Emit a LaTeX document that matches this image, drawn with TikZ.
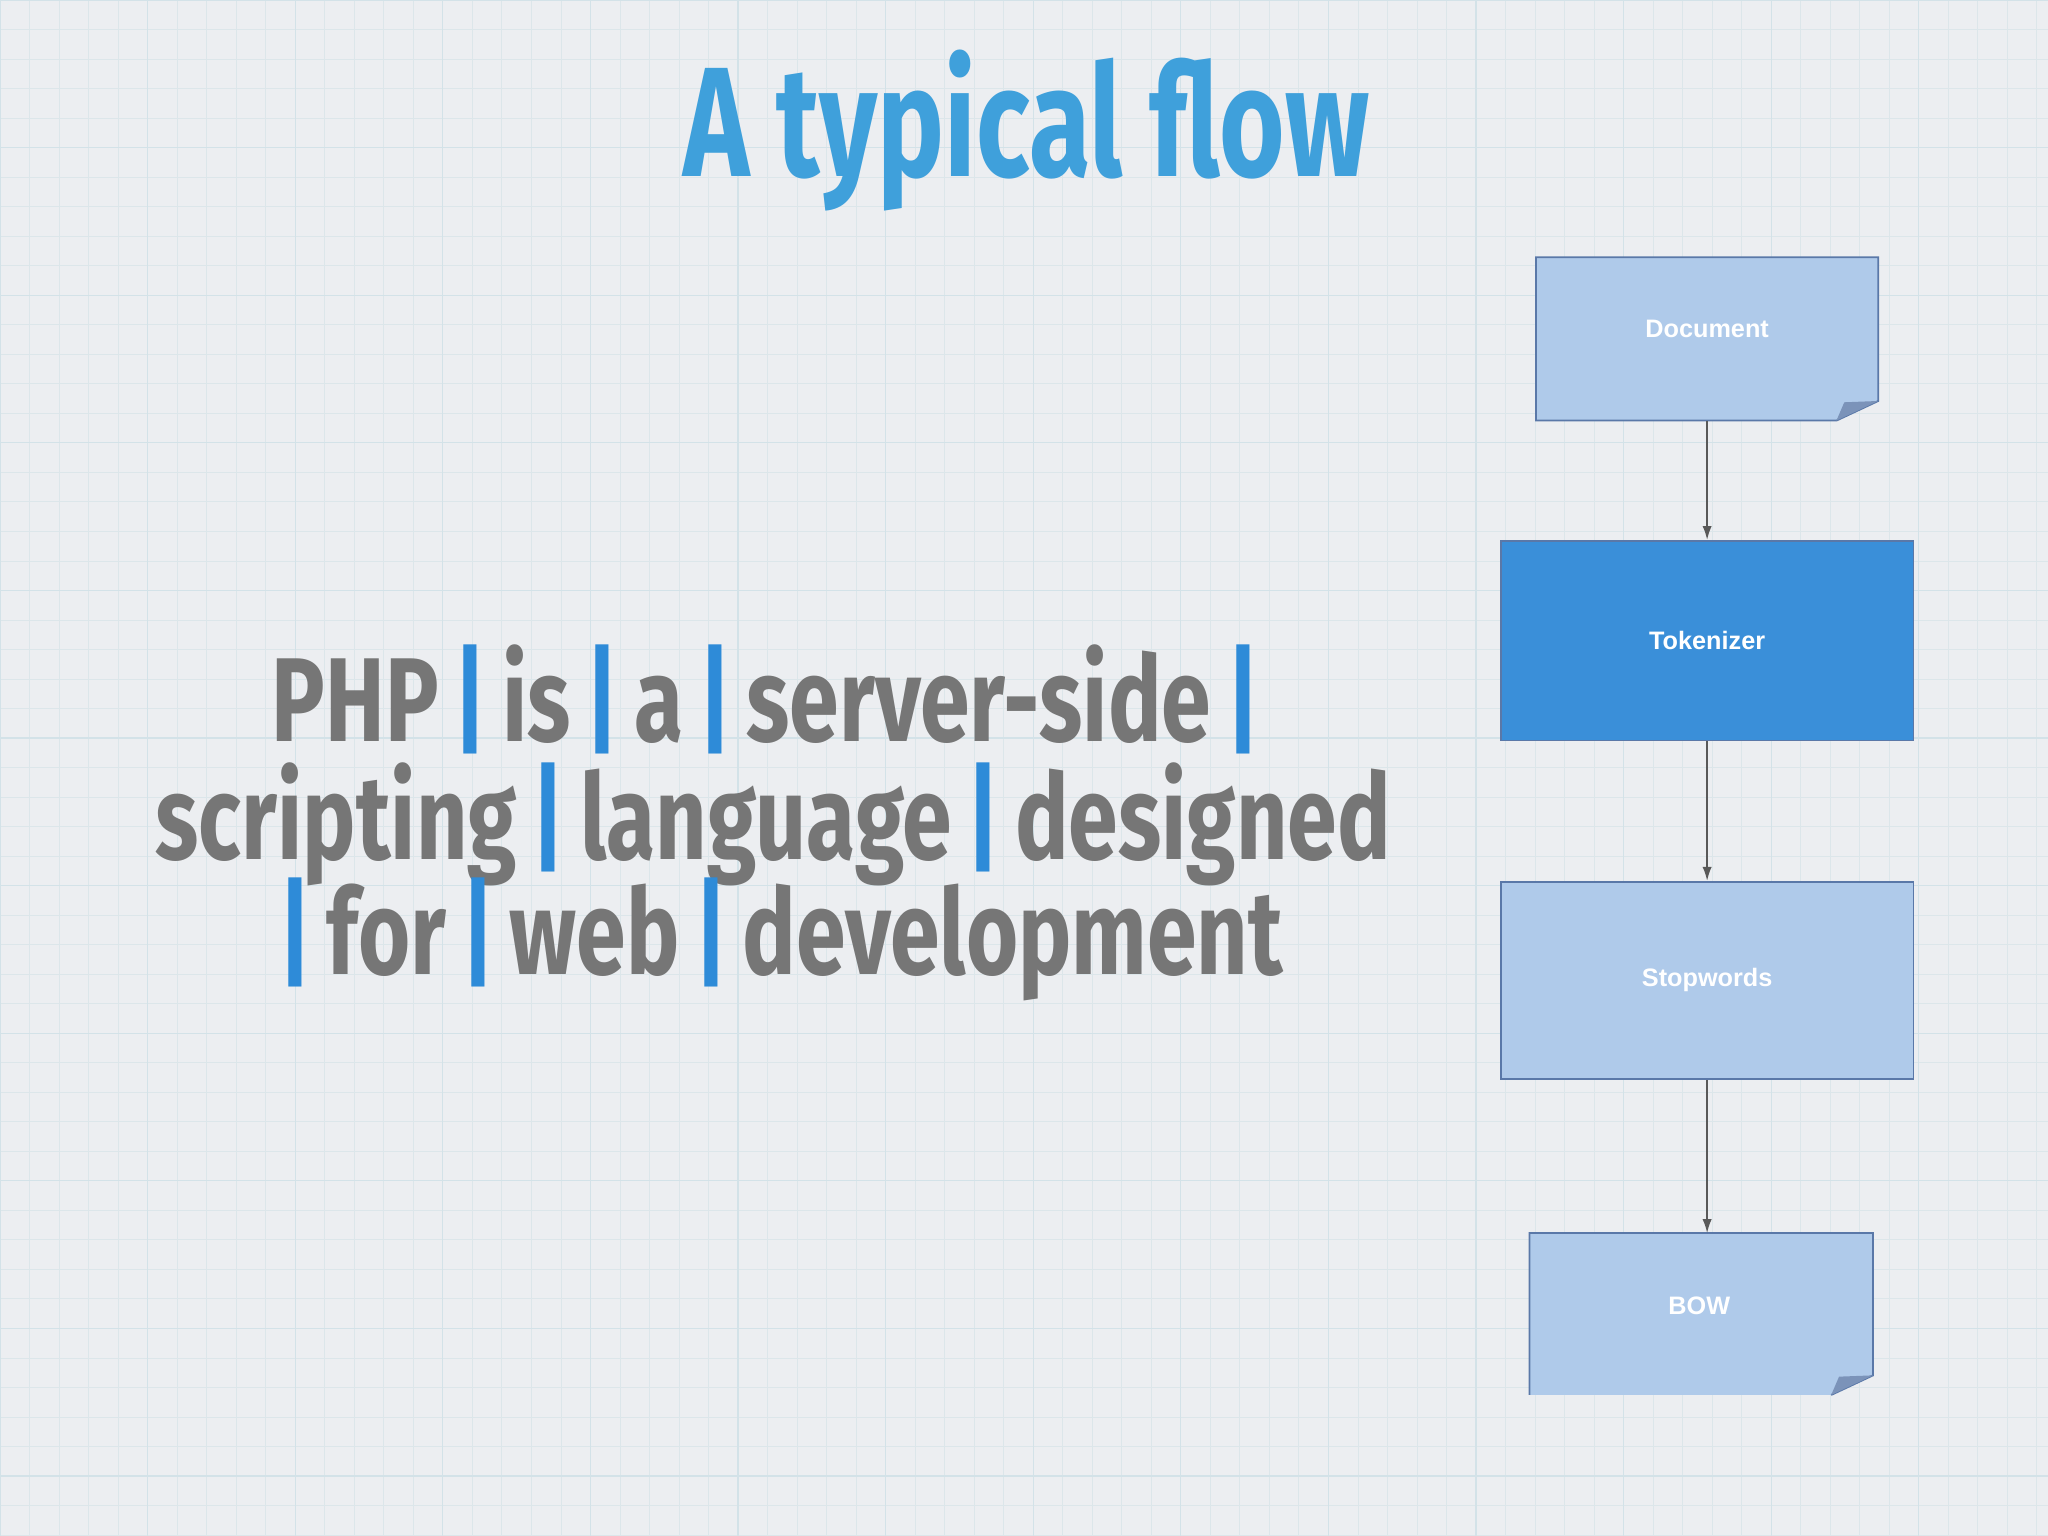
\documentclass[tikz,border=0pt]{standalone}
\usepackage{fontspec}
\setmainfont{Fira Sans}
\newfontfamily\boxfont{Liberation Sans}
\usetikzlibrary{arrows.meta}
\definecolor{bg}{HTML}{ECEEF1}
\definecolor{gridc}{HTML}{DCE6EA}
\definecolor{gridm}{HTML}{D3E2E8}
\definecolor{ttl}{HTML}{3FA0DB}
\definecolor{txt}{HTML}{767676}
\definecolor{bar}{HTML}{2E8BD8}
\definecolor{light}{HTML}{AFCAEA}
\definecolor{dark}{HTML}{3A8FD9}
\definecolor{edge}{HTML}{5A78A8}
\tikzset{
 flowbox/.style={draw=edge,line width=0.8pt,text=white,font=\boxfont\bfseries\fontsize{11}{13}\selectfont},
 flowarrow/.style={draw=gray!70!black,line width=0.6pt,-{Latex[length=6pt,width=4pt]}},
 body/.style={text=txt,font=\bfseries\fontsize{52}{60}\selectfont,anchor=base}
}
\newcommand{\sepbar}{\textcolor{bar}{\,|\,}}
\begin{document}
\begin{tikzpicture}[x=0.02cm,y=-0.02cm]
\fill[bg] (0,0) rectangle (1568,1176);
\useasboundingbox (0,0) rectangle (1568,1176);
\foreach \i in {0,22.6,...,1568} \draw[gridc,line width=0.3pt] (\i,0) -- (\i,1176);
\foreach \i in {0,22.6,...,1176} \draw[gridc,line width=0.3pt] (0,\i) -- (1568,\i);
\foreach \i in {0,113,...,1568} \draw[gridm,line width=0.5pt] (\i,0) -- (\i,1176);
\foreach \i in {0,113,...,1176} \draw[gridm,line width=0.5pt] (0,\i) -- (1568,\i);
% title
\node[text=ttl,font=\bfseries\fontsize{68}{76}\selectfont] (title) at (786,100) {\scalebox{0.72}[1]{A typical flow}};
% body
\node[body] (l1) at (592,568) {\scalebox{0.75}[1]{PHP\sepbar is\sepbar a\sepbar server-side\sepbar}};
\node[body] (l2) at (592,658) {\scalebox{0.75}[1]{scripting\sepbar language\sepbar designed}};
\node[body] (l3) at (592,746) {\scalebox{0.75}[1]{\sepbar for\sepbar web\sepbar development}};
% boxes
\fill[light] (1176,197) -- (1438,197) -- (1438,307) -- (1406,322) -- (1176,322) -- cycle;
\draw[edge,line width=0.8pt] (1176,197) -- (1438,197) -- (1438,307) -- (1406,322) -- (1176,322) -- cycle;
\fill[edge!80] (1406,322) -- (1412,308) -- (1438,307) -- cycle;
\node[flowbox,draw=none,minimum width=262*0.02cm,minimum height=110*0.02cm] (doc) at (1307,252) {Document};
\node[flowbox,fill=dark,minimum width=316*0.02cm,minimum height=153*0.02cm] (tok) at (1307,490.5) {Tokenizer};
\node[flowbox,fill=light,minimum width=316*0.02cm,minimum height=151*0.02cm] (stop) at (1307,750.5) {Stopwords};
\fill[light] (1171,944) -- (1434,944) -- (1434,1053) -- (1402,1068) -- (1171,1068) -- cycle;
\draw[edge,line width=0.8pt] (1171,1068) -- (1171,944) -- (1434,944) -- (1434,1053) -- (1402,1068);
\fill[edge!80] (1402,1068) -- (1408,1054) -- (1434,1053) -- cycle;
\node[flowbox,draw=none,minimum width=263*0.02cm,minimum height=110*0.02cm] (bow) at (1301,1000) {BOW};
\draw[flowarrow] (1307,322) -- (tok.north);
\draw[flowarrow] (tok.south) -- (stop.north);
\draw[flowarrow] (stop.south) -- (1307,944);
\end{tikzpicture}
\end{document}
